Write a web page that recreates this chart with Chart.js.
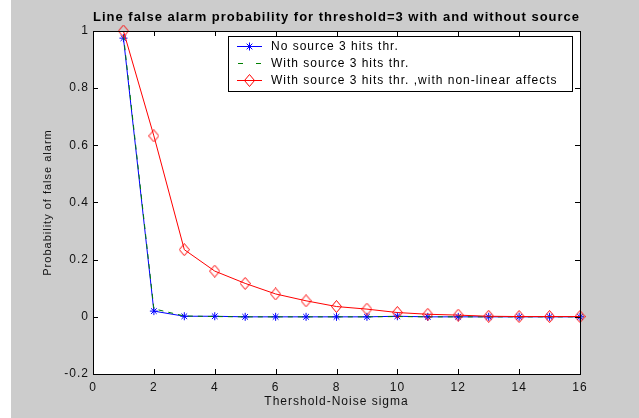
<!DOCTYPE html>
<html>
<head>
<meta charset="utf-8">
<script src="https://cdn.jsdelivr.net/npm/chart.js@4/dist/chart.umd.min.js"></script>
<style>
  html, body { margin: 0; padding: 0; background: #ffffff; }
  #wrap { width: 639px; height: 418px; position: relative; }
</style>
</head>
<body>
<div id="wrap"><canvas id="c" width="639" height="418"></canvas></div>
<script>
// ---- data ----
const xValues = [1, 2, 3, 4, 5, 6, 7, 8, 9, 10, 11, 12, 13, 14, 15, 16];
const noSource = [0.975, 0.02, 0.002, 0.002, 0, 0, 0, 0, 0, 0.002, 0, 0, 0, 0, 0, 0];
const withSource = [0.985, 0.028, 0.003, 0.001, 0, 0, 0, 0, 0, 0.001, 0, 0, 0, 0, 0, 0];
const withSourceNonLinear = [1.0, 0.633, 0.235, 0.16, 0.117, 0.080, 0.056, 0.036, 0.027, 0.015, 0.009, 0.006, 0.002, 0.001, 0.001, 0.001];
const xTicks = [0, 2, 4, 6, 8, 10, 12, 14, 16];
const yTicks = [-0.2, 0, 0.2, 0.4, 0.6, 0.8, 1];
const seriesNames = [
  'No source 3 hits thr.',
  'With source 3 hits thr.',
  'With source 3 hits thr. ,with non-linear affects'
];
const titleText = 'Line false alarm probability for threshold=3 with and without source';
const xTitle = 'Thershold-Noise sigma';
const yTitle = 'Probability of false alarm';

const toPts = arr => arr.map((v, i) => ({ x: xValues[i], y: v }));
const FONT = 'Liberation Sans, Arial, sans-serif';

// tall diamond marker (MATLAB-like)
function makeDiamond(color) {
  const c = document.createElement('canvas');
  c.width = 11; c.height = 13;
  const g = c.getContext('2d');
  g.strokeStyle = color; g.lineWidth = 1;
  g.beginPath();
  g.moveTo(5.5, 0.5); g.lineTo(10.5, 6.5); g.lineTo(5.5, 12.5); g.lineTo(0.5, 6.5);
  g.closePath(); g.stroke();
  return c;
}
const diamondImg = makeDiamond('#ff0000');

const bgPlugin = {
  id: 'bg',
  beforeDraw(chart) {
    const { ctx, chartArea: a } = chart;
    try { ctx.letterSpacing = '1px'; } catch (e) {}
    ctx.save();
    ctx.fillStyle = '#cccccc';
    ctx.fillRect(11, 0, chart.width - 11, chart.height);
    ctx.fillStyle = '#ffffff';
    ctx.fillRect(a.left, a.top, a.right - a.left, a.bottom - a.top);
    ctx.restore();
  }
};

const axesPlugin = {
  id: 'matlabAxes',
  afterDatasetsDraw(chart) {
    const { ctx, chartArea: a, scales } = chart;
    ctx.save();
    ctx.strokeStyle = '#000000';
    ctx.lineWidth = 1;
    const L = 5;
    ctx.beginPath();
    scales.x.ticks.forEach(t => {
      const px = Math.round(scales.x.getPixelForValue(t.value)) + 0.5;
      ctx.moveTo(px, a.bottom); ctx.lineTo(px, a.bottom - L);
      ctx.moveTo(px, a.top); ctx.lineTo(px, a.top + L);
    });
    scales.y.ticks.forEach(t => {
      const py = Math.round(scales.y.getPixelForValue(t.value)) + 0.5;
      ctx.moveTo(a.left, py); ctx.lineTo(a.left + L, py);
      ctx.moveTo(a.right, py); ctx.lineTo(a.right - L, py);
    });
    ctx.stroke();
    ctx.strokeRect(Math.round(a.left) + 0.5, Math.round(a.top) + 0.5,
                   Math.round(a.right - a.left), Math.round(a.bottom - a.top));

    // legend box
    const bx = 228, by = 36, bw = 344, bh = 55;
    ctx.fillStyle = '#ffffff';
    ctx.fillRect(bx, by, bw, bh);
    ctx.strokeRect(bx + 0.5, by + 0.5, bw, bh);
    const rows = [46.5, 63.5, 80.5];
    const ds = chart.data.datasets;
    ctx.font = '12px ' + FONT;
    ctx.textBaseline = 'middle';
    ctx.textAlign = 'left';
    rows.forEach((ry, i) => {
      const d = ds[i];
      ctx.save();
      ctx.strokeStyle = d.borderColor;
      ctx.lineWidth = 1;
      ctx.beginPath();
      if (d.borderDash && d.borderDash.length) {
        ctx.moveTo(238, ry); ctx.lineTo(243, ry);
        ctx.moveTo(256, ry); ctx.lineTo(261, ry);
      } else {
        ctx.moveTo(237, ry); ctx.lineTo(262, ry);
      }
      ctx.stroke();
      if (d.pointRadius > 0) {
        ctx.strokeStyle = d.pointBorderColor;
        ctx.fillStyle = 'rgba(0,0,0,0)';
        Chart.helpers.drawPoint(ctx, {
          pointStyle: d.pointStyle, radius: d.pointRadius, rotation: 0,
          borderWidth: 1
        }, 249.5, ry);
      }
      ctx.restore();
      ctx.fillStyle = '#000000';
      ctx.fillText(seriesNames[i], 271, ry + 0.5);
    });
    ctx.restore();
  }
};

const chart = new Chart(document.getElementById('c'), {
  type: 'line',
  data: {
    datasets: [
      {
        label: seriesNames[0],
        data: toPts(noSource),
        borderColor: '#0000ff',
        backgroundColor: '#0000ff',
        borderWidth: 1,
        pointStyle: 'star',
        pointRadius: 4,
        pointBorderColor: '#0000ff',
        pointBackgroundColor: '#0000ff',
        pointBorderWidth: 1,
        order: 3,
        clip: false
      },
      {
        label: seriesNames[1],
        data: toPts(withSource),
        borderColor: '#008000',
        backgroundColor: '#008000',
        borderWidth: 1,
        borderDash: [5, 5],
        pointRadius: 0,
        order: 2,
        clip: false
      },
      {
        label: seriesNames[2],
        data: toPts(withSourceNonLinear),
        borderColor: '#ff0000',
        backgroundColor: '#ff0000',
        borderWidth: 1,
        pointStyle: diamondImg,
        pointRadius: 5,
        pointBorderColor: '#ff0000',
        pointBackgroundColor: 'rgba(0,0,0,0)',
        pointBorderWidth: 1,
        order: 1,
        clip: false
      }
    ]
  },
  options: {
    responsive: false,
    animation: false,
    devicePixelRatio: 1,
    layout: { padding: { left: 30, right: 59, top: 0, bottom: 0 } },
    plugins: {
      legend: { display: false },
      tooltip: { enabled: false },
      title: {
        display: true,
        fullSize: false,
        text: titleText,
        color: '#000000',
        font: { family: FONT, size: 13, weight: 'bold', lineHeight: 1.2 },
        padding: { top: 9.2, bottom: 6.2 }
      }
    },
    scales: {
      x: {
        type: 'linear',
        min: 0, max: 16,
        afterBuildTicks: s => { s.ticks = xTicks.map(v => ({ value: v })); },
        afterFit: s => { s.height = 44; },
        grid: { display: false, drawTicks: false },
        border: { display: false },
        ticks: {
          color: '#111111',
          padding: 6,
          maxRotation: 0,
          autoSkip: false,
          font: { family: FONT, size: 12 },
          callback: v => String(v)
        },
        title: {
          display: true,
          text: xTitle,
          color: '#111111',
          font: { family: FONT, size: 12 },
          padding: { top: 0, bottom: 9 }
        }
      },
      y: {
        type: 'linear',
        min: -0.2, max: 1,
        afterBuildTicks: s => { s.ticks = yTicks.map(v => ({ value: v })); },
        afterFit: s => { s.width = 63; },
        grid: { display: false, drawTicks: false },
        border: { display: false },
        ticks: {
          color: '#111111',
          padding: 4,
          autoSkip: false,
          font: { family: FONT, size: 12 },
          callback: v => String(Math.round(v * 10) / 10)
        },
        title: {
          display: true,
          text: yTitle,
          color: '#111111',
          font: { family: FONT, size: 11 },
          padding: { top: 11, bottom: 0 }
        }
      }
    }
  },
  plugins: [bgPlugin, axesPlugin]
});
</script>
</body>
</html>
